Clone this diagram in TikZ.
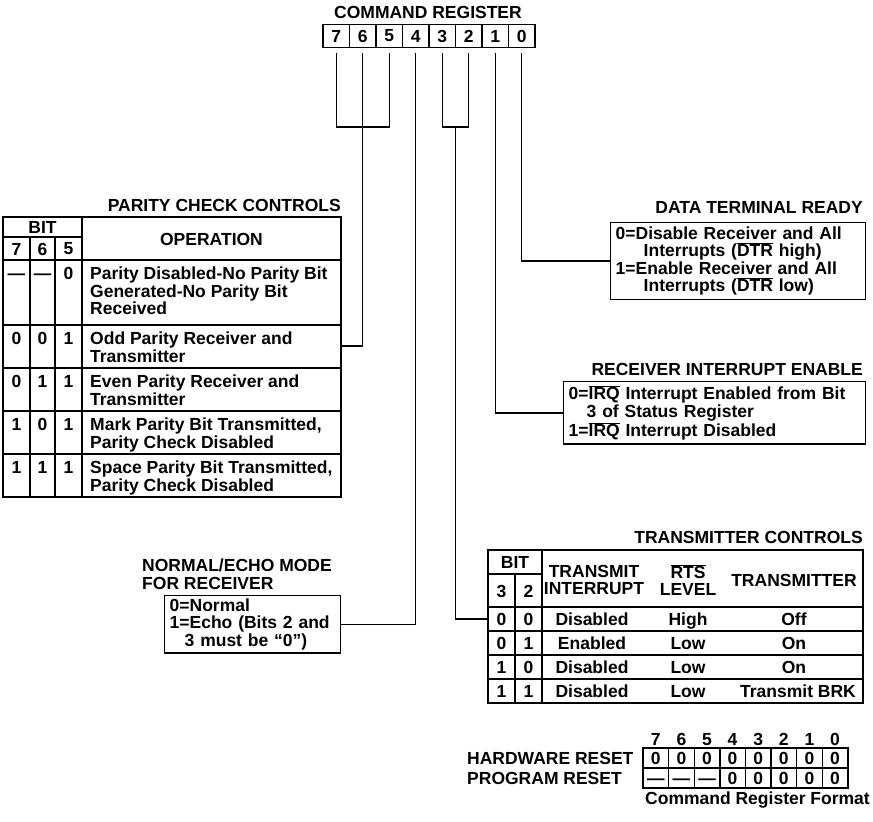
\documentclass[tikz,border=0pt]{standalone}
\usepackage{fontspec}
\setmainfont{Liberation Sans}
\newcommand{\ovl}[1]{$\overline{\mbox{#1}}$}
\tikzset{
  lbl/.style={inner sep=0pt, font=\fontsize{17.5}{17.5}\selectfont\bfseries},
  bitcell/.style={lbl, draw, line width=1.4pt, minimum width=26.5pt, minimum height=23pt},
  rstcell/.style={lbl, draw, line width=1.4pt, minimum width=25.6pt, minimum height=20pt, text height=12.5pt, text depth=0pt},
  infobox/.style={lbl, draw, line width=1.4pt, align=left, anchor=north west, inner xsep=5pt, inner ysep=4pt},
  wire/.style={line width=1.4pt},
}
\begin{document}
\begin{tikzpicture}[x=1pt, y=-1pt]
    \useasboundingbox (0,0) rectangle (873,822);

    \node[lbl] (crtitle) at (428,12) {COMMAND REGISTER};
    \node[bitcell] (r7) at (336.25,36) {7};
    \node[bitcell] (r6) at (362.75,36) {6};
    \node[bitcell] (r5) at (389.25,36) {5};
    \node[bitcell] (r4) at (415.75,36) {4};
    \node[bitcell] (r3) at (442.25,36) {3};
    \node[bitcell] (r2) at (468.75,36) {2};
    \node[bitcell] (r1) at (495.25,36) {1};
    \node[bitcell] (r0) at (521.75,36) {0};

    \coordinate (j75) at (362.75,127);
    \coordinate (j32) at (455.5,127);
    \coordinate (parodd) at (341,346);
    \coordinate (txrow0) at (488,619);

    % parity check controls
    \node[lbl, anchor=base east] (partitle) at (341,211) {PARITY CHECK CONTROLS};
    \draw[wire] (3,217) rectangle (341,497);
    \draw[wire] (82,217) -- (82,497);
    \draw[wire] (3,237) -- (82,237);
    \draw[wire] (30,237) -- (30,497);
    \draw[wire] (55,237) -- (55,497);
    \draw[wire] (3,260) -- (341,260);
    \draw[wire] (3,325) -- (341,325);
    \draw[wire] (3,368) -- (341,368);
    \draw[wire] (3,411) -- (341,411);
    \draw[wire] (3,454) -- (341,454);
    \node[lbl] (pbit) at (42.5,227) {BIT};
    \node[lbl] (pc7) at (16.5,249) {7};
    \node[lbl] (pc6) at (42.5,249) {6};
    \node[lbl] (pc5) at (68.5,249) {5};
    \node[lbl] (pop) at (211.5,239) {OPERATION};

    \node[lbl, anchor=base] (pa7) at (16.5,279.5) {\textemdash};
    \node[lbl, anchor=base] (pa6) at (42.5,279.5) {\textemdash};
    \node[lbl, anchor=base] (pa5) at (68.5,279.5) {0};
    \node[lbl, anchor=north west, align=left] (pa) at (90,267) {Parity Disabled-No Parity Bit\\Generated-No Parity Bit\\Received};

    \node[lbl, anchor=base] (pb7) at (16.5,344.5) {0};
    \node[lbl, anchor=base] (pb6) at (42.5,344.5) {0};
    \node[lbl, anchor=base] (pb5) at (68.5,344.5) {1};
    \node[lbl, anchor=north west, align=left] (pb) at (90,332) {Odd Parity Receiver and\\Transmitter};

    \node[lbl, anchor=base] (pcc7) at (16.5,387.5) {0};
    \node[lbl, anchor=base] (pcc6) at (42.5,387.5) {1};
    \node[lbl, anchor=base] (pcc5) at (68.5,387.5) {1};
    \node[lbl, anchor=north west, align=left] (pcc) at (90,375) {Even Parity Receiver and\\Transmitter};

    \node[lbl, anchor=base] (pd7) at (16.5,430.5) {1};
    \node[lbl, anchor=base] (pd6) at (42.5,430.5) {0};
    \node[lbl, anchor=base] (pd5) at (68.5,430.5) {1};
    \node[lbl, anchor=north west, align=left] (pd) at (90,418) {Mark Parity Bit Transmitted,\\Parity Check Disabled};

    \node[lbl, anchor=base] (pe7) at (16.5,473.5) {1};
    \node[lbl, anchor=base] (pe6) at (42.5,473.5) {1};
    \node[lbl, anchor=base] (pe5) at (68.5,473.5) {1};
    \node[lbl, anchor=north west, align=left] (pe) at (90,461) {Space Parity Bit Transmitted,\\Parity Check Disabled};

    % data terminal ready, receiver interrupt enable
    \node[lbl, anchor=base east] (dtrtitle) at (863,213) {DATA TERMINAL READY};
    \node[infobox, text width=245pt] (dtr) at (610,222) {0=Disable Receiver and All\\\hspace*{28pt}Interrupts (\ovl{DTR} high)\\1=Enable Receiver and All\\\hspace*{28pt}Interrupts (\ovl{DTR} low)};
    \node[lbl, anchor=base east] (rietitle) at (863,375) {RECEIVER INTERRUPT ENABLE};
    \node[infobox, text width=292pt] (rie) at (563,381) {0=\ovl{IRQ} Interrupt Enabled from Bit\\\hspace*{18pt}3 of Status Register\\1=\ovl{IRQ} Interrupt Disabled};

    % normal/echo mode
    \node[lbl, anchor=north west, align=left] (echotitle) at (142,559) {NORMAL/ECHO MODE\\FOR RECEIVER};
    \node[infobox, text width=166pt, inner ysep=3pt] (echo) at (164,595) {0=Normal\\1=Echo (Bits 2 and\\\hspace*{15pt}3 must be ``0'')};

    % transmitter controls
    \node[lbl, anchor=base east] (txtitle) at (863,543) {TRANSMITTER CONTROLS};
    \draw[wire] (488,550) rectangle (863,703);
    \draw[wire] (542,550) -- (542,703);
    \draw[wire] (515,574) -- (515,703);
    \draw[wire] (488,574) -- (542,574);
    \draw[wire] (488,607) -- (863,607);
    \draw[wire] (488,631) -- (863,631);
    \draw[wire] (488,655) -- (863,655);
    \draw[wire] (488,679) -- (863,679);
    \node[lbl] (tbit) at (515,562) {BIT};
    \node[lbl] (tc3) at (501.5,591) {3};
    \node[lbl] (tc2) at (528.5,591) {2};
    \node[lbl, align=center] (tint) at (594,580) {TRANSMIT\\INTERRUPT};
    \node[lbl, align=center] (trts) at (688,580) {\ovl{RTS}\\LEVEL};
    \node[lbl] (ttx) at (794,580) {TRANSMITTER};

    \node[lbl, anchor=base] (ta3) at (501.5,625) {0};
    \node[lbl, anchor=base] (ta2) at (528.5,625) {0};
    \node[lbl, anchor=base] (taint) at (592,625) {Disabled};
    \node[lbl, anchor=base] (tarts) at (688,625) {High};
    \node[lbl, anchor=base] (tatx) at (794,625) {Off};

    \node[lbl, anchor=base] (tb3) at (501.5,649) {0};
    \node[lbl, anchor=base] (tb2) at (528.5,649) {1};
    \node[lbl, anchor=base] (tbint) at (592,649) {Enabled};
    \node[lbl, anchor=base] (tbrts) at (688,649) {Low};
    \node[lbl, anchor=base] (tbtx) at (794,649) {On};

    \node[lbl, anchor=base] (tc3r) at (501.5,673) {1};
    \node[lbl, anchor=base] (tc2r) at (528.5,673) {0};
    \node[lbl, anchor=base] (tcint) at (592,673) {Disabled};
    \node[lbl, anchor=base] (tcrts) at (688,673) {Low};
    \node[lbl, anchor=base] (tctx) at (794,673) {On};

    \node[lbl, anchor=base] (td3) at (501.5,697) {1};
    \node[lbl, anchor=base] (td2) at (528.5,697) {1};
    \node[lbl, anchor=base] (tdint) at (592,697) {Disabled};
    \node[lbl, anchor=base] (tdrts) at (688,697) {Low};
    \node[lbl, anchor=base] (tdtx) at (798,697) {Transmit BRK};

    % connectors from the register bits
    \draw[wire] ([yshift=-5pt]r7.south) |- (j75) -| ([yshift=-5pt]r5.south);
    \draw[wire] ([yshift=-5pt]r6.south) |- (parodd);
    \draw[wire] ([yshift=-5pt]r4.south) |- (echo.east);
    \draw[wire] ([yshift=-5pt]r3.south) |- (j32) -| ([yshift=-5pt]r2.south);
    \draw[wire] (j32) |- (txrow0);
    \draw[wire] ([yshift=-5pt]r1.south) |- (rie.west);
    \draw[wire] ([yshift=-5pt]r0.south) |- (dtr.west);

    % reset values
    \node[lbl, anchor=base] (rl7) at (655.8,745) {7};
    \node[lbl, anchor=base] (rl6) at (681.4,745) {6};
    \node[lbl, anchor=base] (rl5) at (707.0,745) {5};
    \node[lbl, anchor=base] (rl4) at (732.6,745) {4};
    \node[lbl, anchor=base] (rl3) at (758.2,745) {3};
    \node[lbl, anchor=base] (rl2) at (783.8,745) {2};
    \node[lbl, anchor=base] (rl1) at (809.4,745) {1};
    \node[lbl, anchor=base] (rl0) at (835.0,745) {0};
    \node[lbl, anchor=west] (hwlbl) at (467,758) {HARDWARE RESET};
    \node[lbl, anchor=west] (pglbl) at (467,778) {PROGRAM RESET};
    \node[rstcell] (h7) at (655.8,758) {0};
    \node[rstcell] (h6) at (681.4,758) {0};
    \node[rstcell] (h5) at (707.0,758) {0};
    \node[rstcell] (h4) at (732.6,758) {0};
    \node[rstcell] (h3) at (758.2,758) {0};
    \node[rstcell] (h2) at (783.8,758) {0};
    \node[rstcell] (h1) at (809.4,758) {0};
    \node[rstcell] (h0) at (835.0,758) {0};
    \node[rstcell] (g7) at (655.8,778) {\textemdash};
    \node[rstcell] (g6) at (681.4,778) {\textemdash};
    \node[rstcell] (g5) at (707.0,778) {\textemdash};
    \node[rstcell] (g4) at (732.6,778) {0};
    \node[rstcell] (g3) at (758.2,778) {0};
    \node[rstcell] (g2) at (783.8,778) {0};
    \node[rstcell] (g1) at (809.4,778) {0};
    \node[rstcell] (g0) at (835.0,778) {0};
    \node[lbl, anchor=north west] (fmt) at (645,792) {Command Register Format};
\end{tikzpicture}
\end{document}
